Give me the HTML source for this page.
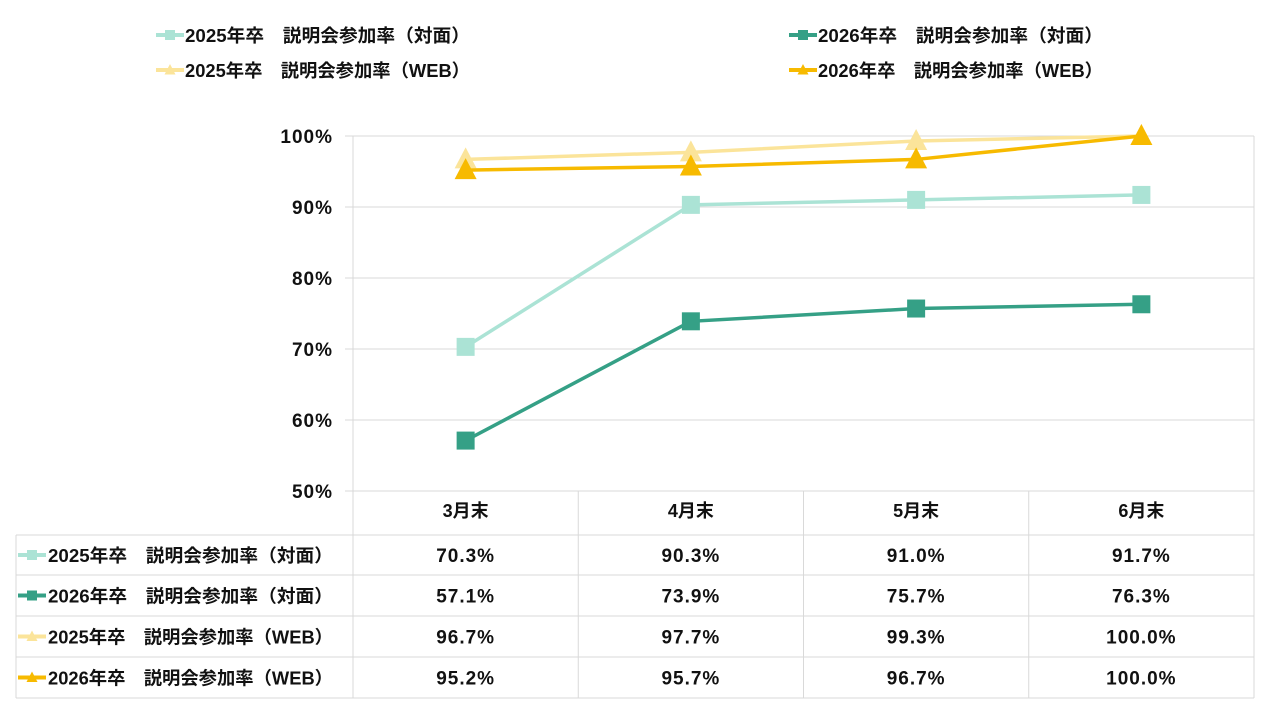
<!DOCTYPE html>
<html><head><meta charset="utf-8">
<style>
html,body{margin:0;padding:0;background:#fff;width:1280px;height:720px;overflow:hidden}
svg text{font-family:"Liberation Sans","Noto Sans CJK JP",sans-serif;font-weight:bold;fill:#111}
.num{letter-spacing:1px}
</style></head>
<body>
<svg id="c" width="1280" height="720"></svg>
<script>
const categories=["3月末","4月末","5月末","6月末"];
const seriesNames=["2025年卒　説明会参加率（対面）","2026年卒　説明会参加率（対面）","2025年卒　説明会参加率（WEB）","2026年卒　説明会参加率（WEB）"];
const s2025Face=[70.3,90.3,91.0,91.7];
const s2026Face=[57.1,73.9,75.7,76.3];
const s2025Web=[96.7,97.7,99.3,100.0];
const s2026Web=[95.2,95.7,96.7,100.0];
const yTicks=[50,60,70,80,90,100];
const allSeries=[s2025Face,s2026Face,s2025Web,s2026Web];
const colors=["#ABE3D5","#35A086","#FBE49A","#F7BA00"];
const markers=["sq","sq","tri","tri"];
const NS="http://www.w3.org/2000/svg";
const svg=document.getElementById('c');
const L=353,R=1254,T=136,B=491,colW=(R-L)/categories.length;
const x=i=>L+colW*(i+0.5);
const y=v=>B-(v-50)/50*(B-T);
function el(tag,attrs,parent){const e=document.createElementNS(NS,tag);for(const k in attrs)e.setAttribute(k,attrs[k]);(parent||svg).appendChild(e);return e;}
yTicks.forEach(t=>{
  const g=el('line',{x1:345,x2:R,y1:y(t),y2:y(t),stroke:'#d9d9d9','stroke-width':1});
  
  
  const tx=el('text',{x:333,y:y(t)+7,'text-anchor':'end','font-size':19,'class':'num'});
  tx.textContent=t+'%';
  
  
});
el('line',{x1:L,x2:L,y1:T,y2:B,stroke:'#d9d9d9'});
el('line',{x1:R,x2:R,y1:T,y2:698,stroke:'#d9d9d9'});
const rowY=[491,535,575,616,657,698];
for(let r=1;r<rowY.length;r++){el('line',{x1:16,x2:R,y1:rowY[r],y2:rowY[r],stroke:'#d9d9d9'});}
el('line',{x1:16,x2:16,y1:535,y2:698,stroke:'#d9d9d9'});
for(let i=0;i<=categories.length;i++){el('line',{x1:L+colW*i,x2:L+colW*i,y1:491,y2:698,stroke:'#d9d9d9'});}
categories.forEach((c,i)=>{
  const t=el('text',{x:x(i),y:517,'text-anchor':'middle','font-size':18});
  t.textContent=c;
  
  
});
function marker(type,cx,cy,size,color,parent){
  if(type==='sq') return el('rect',{x:cx-size/2,y:cy-size/2,width:size,height:size,fill:color},parent);
  return el('polygon',{points:`${cx},${cy-size*0.6} ${cx+size*0.55},${cy+size*0.45} ${cx-size*0.55},${cy+size*0.45}`,fill:color},parent);
}
function legendIcon(cx,cy,i){
  el('line',{x1:cx-14,x2:cx+14,y1:cy,y2:cy,stroke:colors[i],'stroke-width':4});
  marker(markers[i],cx,cy,10,colors[i]);
}
allSeries.forEach((s,si)=>{
  const ry=(rowY[si+1]+rowY[si+2])/2;
  legendIcon(32,ry,si);
  const lt=el('text',{x:48,y:ry+7,'font-size':18,textLength:285,lengthAdjust:'spacingAndGlyphs'});
  lt.textContent=seriesNames[si];
  
  
  s.forEach((v,i)=>{
    const t=el('text',{x:x(i),y:ry+7,'text-anchor':'middle','font-size':19,'class':'num'});
    t.textContent=v.toFixed(1)+'%';
    
    
  });
});
allSeries.forEach((s,si)=>{
  const g=el('g',{});
  
  
  el('polyline',{points:s.map((v,i)=>x(i)+','+y(Math.min(v,100))).join(' '),fill:'none',stroke:colors[si],'stroke-width':3.5},g);
  s.forEach((v,i)=>{
    const m=marker(markers[si],x(i),y(v),markers[si]==='sq'?18:20,colors[si],g);
    
    
  });
});
const legPos=[[170,35],[803,35],[170,70],[803,70]];
[0,1,2,3].forEach(si=>{
  const [lx,ly]=legPos[si];
  legendIcon(lx,ly,si);
  const t=el('text',{x:lx+15,y:ly+7,'font-size':18,textLength:285,lengthAdjust:'spacingAndGlyphs'});
  t.textContent=seriesNames[si];
  
  
});
</script>
</body></html>
